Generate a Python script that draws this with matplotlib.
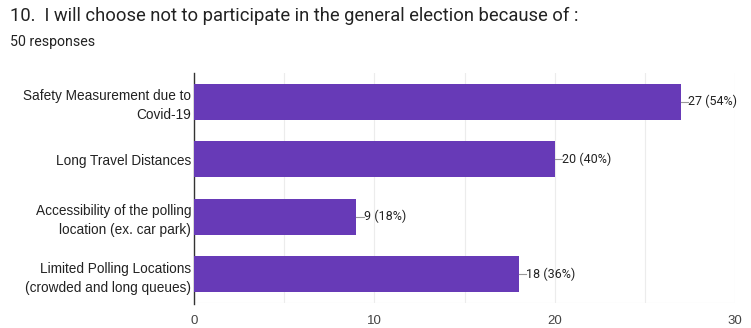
import matplotlib
matplotlib.use("Agg")
import matplotlib.pyplot as plt

plt.rcParams['font.family'] = ['Liberation Sans', 'DejaVu Sans']

categories = ["Safety Measurement due to\nCovid-19",
              "Long Travel Distances",
              "Accessibility of the polling\nlocation (ex. car park)",
              "Limited Polling Locations\n(crowded and long queues)"]
values = [27, 20, 9, 18]
total = 50
xticks = [0, 10, 20, 30]
minor_ticks = [5, 15, 25]

title = "10.  I will choose not to participate in the general election because of :"
subtitle = "50 responses"

fig = plt.figure(figsize=(7.51, 3.28), dpi=100)
ax = fig.add_axes([194/751, 1 - 303/328, (735 - 194)/751, (303 - 73)/328])

ypos = list(range(len(categories)))
ax.barh(ypos, values, height=0.62, color="#673ab7", zorder=3)
ax.set_ylim(len(categories) - 0.5, -0.5)
ax.set_xlim(0, 30)

for y, v in zip(ypos, values):
    ax.plot([v, v + 0.4], [y, y], color="#999999", lw=0.8, zorder=3, clip_on=False)
    ax.text(v + 0.42, y, f"{v} ({round(100*v/total)}%)", va="center", ha="left",
            fontsize=9.0, color="#222222", clip_on=False, family=["Roboto", "DejaVu Sans"])

ax.set_yticks(ypos)
ax.set_yticklabels(categories, fontsize=9.8, color="#222222", ha="right", linespacing=1.45)
ax.set_xticks(xticks)
ax.set_xticks(minor_ticks, minor=True)
ax.set_xticklabels([str(t) for t in xticks], fontsize=9.5, color="#444444")
ax.tick_params(axis="y", length=0, pad=2)
ax.tick_params(axis="x", which="both", length=0, pad=9)
ax.grid(axis="x", which="both", color="#ececec", lw=0.8, zorder=0)
for s in ["top", "right", "bottom"]:
    ax.spines[s].set_visible(False)
ax.spines["left"].set_color("#333333")
ax.spines["left"].set_linewidth(1.0)
ax.spines["left"].set_bounds(len(categories) - 0.5 + 0.01, -0.5)
ax.axhline(len(categories) - 0.5, color="#ececec", lw=0.8, zorder=0)

fig.text(10/751, 1 - 16/328, title, fontsize=13.2, color="#222222", va="center", ha="left",
         family=["Roboto", "DejaVu Sans"])
fig.text(10/751, 1 - 42/328, subtitle, fontsize=10.2, color="#222222", va="center", ha="left",
         family=["Roboto", "DejaVu Sans"])

fig.savefig("out.png", dpi=100)
